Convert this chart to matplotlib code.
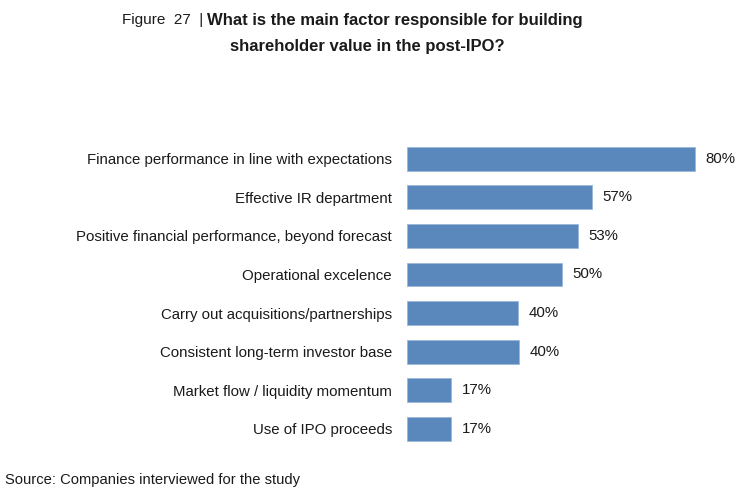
import matplotlib.pyplot as plt

plt.rcParams['font.family'] = ['Liberation Sans', 'DejaVu Sans']

categories = [
    'Finance performance in line with expectations',
    'Effective IR department',
    'Positive financial performance, beyond forecast',
    'Operational excelence',
    'Carry out acquisitions/partnerships',
    'Consistent long-term investor base',
    'Market flow / liquidity momentum',
    'Use of IPO proceeds',
]
# bar lengths as drawn in the picture (scale where the top bar = 80)
bar_values = [80, 51.4, 47.5, 43.0, 30.8, 31.1, 12.2, 12.2]
# printed labels
value_labels = ['80%', '57%', '53%', '50%', '40%', '40%', '17%', '17%']

W, H = 748, 503
fig = plt.figure(figsize=(W / 100, H / 100), dpi=100)

# axes placed in pixel terms
left, right = 407, 731
top, bottom = 139.4, 448.2
ax = fig.add_axes([left / W, 1 - bottom / H, (right - left) / W, (bottom - top) / H])

y = list(range(len(categories)))
ax.barh(y, bar_values, height=0.62, color='#5b88bc', edgecolor='#9bb8da', linewidth=0.6)
ax.set_xlim(0, 90)
ax.set_ylim(len(categories) - 0.5, -0.5)

for i, (v, lab) in enumerate(zip(bar_values, value_labels)):
    ax.text(v + 3.0, i, lab, va='center', ha='left', fontsize=10.8, color='#1a1a1a')

ax.set_yticks(y)
ax.set_yticklabels(categories, fontsize=10.8, color='#1a1a1a')
ax.tick_params(axis='y', length=0, pad=10.8)
ax.set_xticks([])
for s in ax.spines.values():
    s.set_visible(False)

# title
fig.text(122 / W, 1 - 20 / H, 'Figure  27  |', fontsize=11, ha='left', va='center', color='#1a1a1a')
fig.text(207 / W, 1 - 20 / H, 'What is the main factor responsible for building',
         fontsize=12, fontweight='bold', ha='left', va='center', color='#1a1a1a')
fig.text(367 / W, 1 - 47 / H, 'shareholder value in the post-IPO?',
         fontsize=12, fontweight='bold', ha='center', va='center', color='#1a1a1a')

fig.text(5 / W, 1 - 480 / H, 'Source: Companies interviewed for the study',
         fontsize=10.6, ha='left', va='center', color='#1a1a1a')

fig.savefig('out.png', dpi=100)
